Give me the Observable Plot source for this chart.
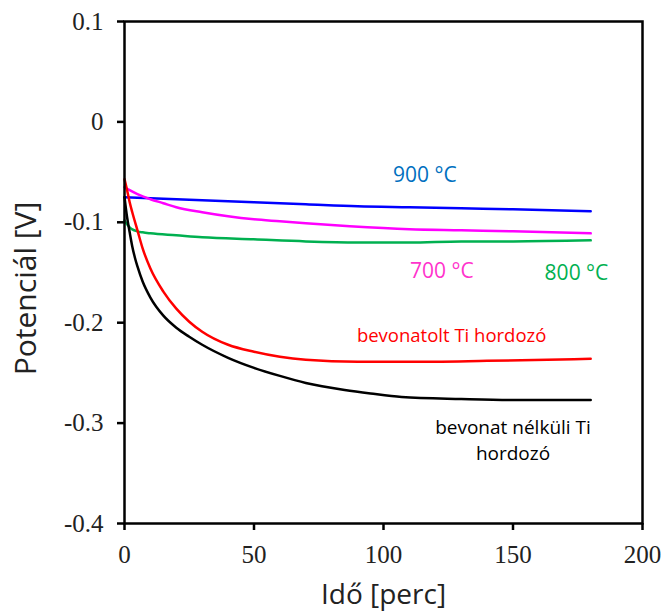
<!DOCTYPE html>
<html>
<head>
<meta charset="utf-8">
<script src="https://cdn.jsdelivr.net/npm/d3@7"></script>
<script src="https://cdn.jsdelivr.net/npm/@observablehq/plot@0.6"></script>
<style>
  html, body { margin: 0; padding: 0; background: #fff; }
  #chart svg g[aria-label="x-axis tick label"] text,
  #chart svg g[aria-label="y-axis tick label"] text { font-family: "Liberation Serif", "DejaVu Serif", serif; }
</style>
</head>
<body>
<div id="chart"></div>
<script>
// Time [perc] and potential [V] for each series
const t900 = [0, 10, 30, 50, 70, 90, 110, 130, 150, 180];
const v900 = [-0.075, -0.076, -0.078, -0.080, -0.082, -0.084, -0.085, -0.086, -0.087, -0.089];

const t700 = [0, 2, 5, 10, 15, 20, 30, 40, 50, 60, 70, 87, 110, 130, 150, 180];
const v700 = [-0.065, -0.068, -0.072, -0.077, -0.081, -0.085, -0.090, -0.094, -0.097, -0.099, -0.101, -0.104, -0.107, -0.108, -0.109, -0.111];

const t800 = [0, 1, 2, 3, 5, 7, 10, 20, 30, 50, 70, 90, 110, 130, 150, 180];
const v800 = [-0.098, -0.102, -0.105, -0.107, -0.109, -0.110, -0.111, -0.113, -0.115, -0.117, -0.119, -0.120, -0.120, -0.119, -0.119, -0.118];

const tRed = [0, 1, 2, 3, 5, 7, 10, 15, 20, 25, 30, 40, 50, 60, 70, 90, 110, 140, 180];
const vRed = [-0.057, -0.068, -0.080, -0.090, -0.108, -0.126, -0.146, -0.169, -0.186, -0.199, -0.209, -0.222, -0.229, -0.234, -0.237, -0.239, -0.239, -0.238, -0.236];

const tBlack = [0, 1, 2, 3, 4, 5, 7, 10, 15, 20, 25, 30, 40, 50, 60, 70, 85, 95, 107, 130, 150, 180];
const vBlack = [-0.075, -0.095, -0.110, -0.124, -0.135, -0.144, -0.159, -0.175, -0.193, -0.205, -0.214, -0.222, -0.235, -0.245, -0.253, -0.260, -0.267, -0.2705, -0.274, -0.276, -0.277, -0.277];

const xTicks = [0, 50, 100, 150, 200];
const yTicks = [0.1, 0, -0.1, -0.2, -0.3, -0.4];

const labelText = ["900 \u00B0C", "700 \u00B0C", "800 \u00B0C", "bevonatolt Ti hordozó", "bevonat nélküli Ti\nhordozó"];
const labelX = [116, 122.5, 174.5, 126.3, 150];
const labelY = [-0.050, -0.146, -0.148, -0.211, -0.3155];
const labelColor = ["#0070c0", "#ff33cc", "#00b050", "#ff0000", "#000000"];
const labelSize = [21, 21, 21, 18.5, 19];

const series = [
  {t: t900, v: v900, color: "#0000ff"},
  {t: t700, v: v700, color: "#ff00ff"},
  {t: t800, v: v800, color: "#00b050"},
  {t: tRed, v: vRed, color: "#ff0000"},
  {t: tBlack, v: vBlack, color: "#000000"}
];

const lineMarks = series.map(s =>
  Plot.line(s.t.map((t, i) => ({t, v: s.v[i]})), {
    x: "t", y: "v", stroke: s.color, strokeWidth: 2.5, curve: "monotone-x"
  })
);

const labels = labelText.map((text, i) => ({text, x: labelX[i], y: labelY[i], color: labelColor[i], size: labelSize[i]}));

const chart = Plot.plot({
  width: 662,
  height: 613,
  marginLeft: 124,
  marginRight: 20,
  marginTop: 21,
  marginBottom: 90,
  style: {background: "#fff", overflow: "visible", fontFamily: "Liberation Serif"},
  x: {domain: [0, 200]},
  y: {domain: [-0.4, 0.1]},
  marks: [
    ...lineMarks,
    Plot.frame({stroke: "#000", strokeWidth: 2.5}),
    Plot.axisX({ticks: xTicks, tickSize: 7, tickPadding: 15, strokeWidth: 2.5, fontSize: 25, fill: "#222", label: null}),
    Plot.axisY({ticks: yTicks, tickSize: 7, tickPadding: 14, strokeWidth: 2.5, fontSize: 25, fill: "#222", label: null,
      tickFormat: d => d === 0 ? "0" : String(d)}),
    ...labels.map(l => Plot.text([l], {x: "x", y: "y", text: "text", fill: l.color, fontSize: l.size, fontFamily: "Open Sans", lineHeight: 1.4, textAnchor: "middle"})),
    Plot.text(["Idő [perc]"], {frameAnchor: "bottom", dy: 72, text: d => d, textAnchor: "middle", lineAnchor: "middle", fontSize: 28, fontFamily: "Open Sans", fill: "#222"}),
    Plot.text(["Potenciál [V]"], {frameAnchor: "left", dx: -98, dy: 16, rotate: -90, text: d => d, textAnchor: "middle", lineAnchor: "middle", fontSize: 30, fontFamily: "Open Sans", fill: "#222"})
  ]
});
document.getElementById("chart").appendChild(chart);
</script>
</body>
</html>
